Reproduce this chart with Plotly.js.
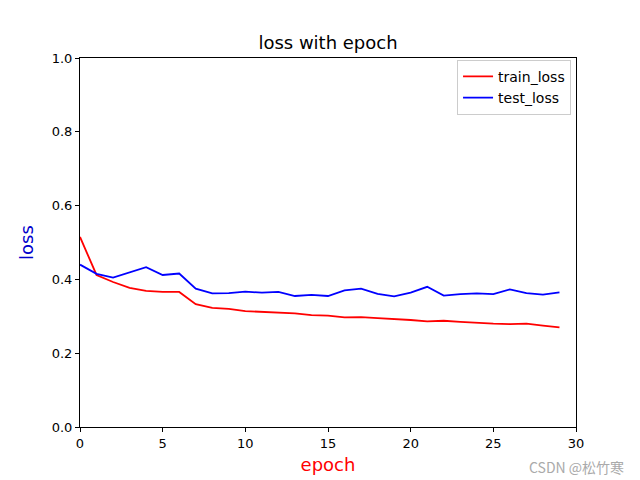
<!DOCTYPE html>
<html><head><meta charset="utf-8">
<script src="https://cdn.plot.ly/plotly-3.0.1.min.js"></script>
<style>body{margin:0;}#c{width:640px;height:480px;}</style>
</head><body><div id="c"></div>
<script>
const epochs = Array.from({length:30},(_,i)=>i);
const trainLoss = [0.515,0.412,0.393,0.377,0.369,0.366,0.366,0.333,0.323,0.320,0.314,0.312,0.309,0.308,0.303,0.302,0.297,0.298,0.295,0.293,0.290,0.286,0.288,0.285,0.282,0.280,0.279,0.280,0.275,0.270];
const testLoss = [0.440,0.415,0.405,0.418,0.433,0.412,0.416,0.375,0.362,0.363,0.367,0.364,0.366,0.355,0.358,0.355,0.370,0.375,0.361,0.354,0.364,0.380,0.356,0.360,0.362,0.360,0.373,0.363,0.359,0.365];
const font = "DejaVu Sans, sans-serif";
const data = [
 {x:epochs,y:trainLoss,mode:'lines',name:'train_loss',line:{color:'#ff0000',width:1.8}},
 {x:epochs,y:testLoss,mode:'lines',name:'test_loss',line:{color:'#0000ff',width:1.8}}
];
const ax = {showgrid:false,zeroline:false,showline:true,mirror:true,linecolor:'black',linewidth:1,
  ticks:'outside',ticklen:4,tickcolor:'black',tickfont:{family:font,size:13,color:'black'}};
const layout = {
 width:640,height:480,paper_bgcolor:'white',plot_bgcolor:'white',
 margin:{l:80,r:64,t:58,b:53},
 title:{text:'loss with epoch',font:{family:font,size:18,color:'black'},x:0.5,xref:'paper',y:0.897,yanchor:'bottom',yref:'container'},
 xaxis:Object.assign({},ax,{range:[0,30],dtick:5,tick0:0,title:{text:'epoch',font:{family:font,size:18,color:'red'},standoff:8}}),
 yaxis:Object.assign({},ax,{range:[0,1],dtick:0.2,tickformat:'.1f',title:{text:'loss',font:{family:font,size:18,color:'#0000cc'},standoff:13}}),
 showlegend:true,
 legend:{x:0.99,y:0.995,xanchor:'right',yanchor:'top',bordercolor:'#cccccc',borderwidth:1,bgcolor:'white',font:{family:font,size:14,color:'black'},tracegroupgap:0},
 annotations:[{text:'CSDN @松竹寒',xref:'paper',yref:'paper',x:1.1,y:-0.075,xanchor:'right',yanchor:'top',showarrow:false,font:{family:'Noto Sans CJK SC, sans-serif',size:14,color:'#aaaaaa'}}]
};
Plotly.newPlot('c',data,layout,{displayModeBar:false});
</script></body></html>
